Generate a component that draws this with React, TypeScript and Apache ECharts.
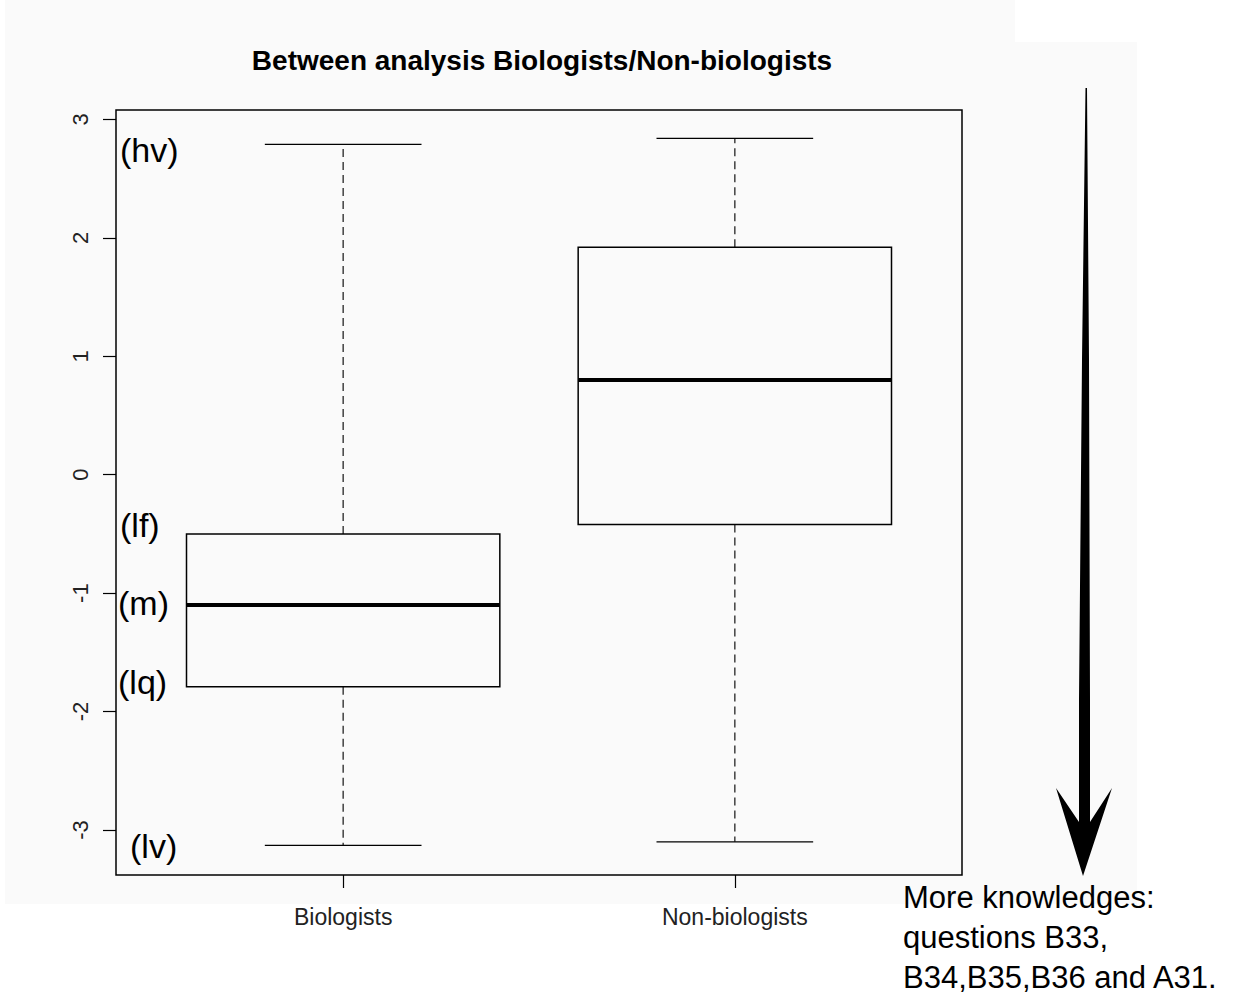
import React, { useEffect, useRef } from "react";
import * as echarts from "echarts";

const categories = ["Biologists", "Non-biologists"];
const positions = [1, 2];
// [low whisker, Q1, median, Q3, high whisker]
const biologists = [-3.13, -1.79, -1.1, -0.5, 2.79];
const nonBiologists = [-3.1, -0.42, 0.8, 1.92, 2.84];
const yTicks = [-3, -2, -1, 0, 1, 2, 3];
const annotations = [
  { text: "(hv)", x: 120, y: 150 },
  { text: "(lf)", x: 120, y: 525 },
  { text: "(m)", x: 118, y: 603 },
  { text: "(lq)", x: 118, y: 682 },
  { text: "(lv)", x: 130, y: 846 },
];
const noteLines = ["More knowledges:", "questions B33,", "B34,B35,B36 and A31."];

const FONT = "'Liberation Sans', Arial, sans-serif";

export default function App() {
  const ref = useRef<HTMLDivElement>(null);
  useEffect(() => {
    if (!ref.current) return;
    const chart = echarts.init(ref.current, null, { renderer: "svg" });
    const rows = [biologists, nonBiologists].map((v, i) => [positions[i], ...v]);
    const halfBox = 0.4;
    const halfCap = 0.2;
    const option: any = {
      animation: false,
      backgroundColor: "#ffffff",
      title: {
        text: "Between analysis Biologists/Non-biologists",
        left: 537,
        top: 41,
        textAlign: "center",
        textStyle: { fontFamily: FONT, fontSize: 28, fontWeight: "bold", color: "#000" },
      },
      grid: {
        left: 116,
        top: 110,
        width: 846,
        height: 765,
        show: true,
        borderColor: "#000",
        borderWidth: 1.5,
        backgroundColor: "transparent",
      },
      xAxis: {
        type: "value",
        min: 0.42,
        max: 2.58,
        splitLine: { show: false },
        axisLine: { show: false, onZero: false },
        axisTick: {
          show: true,
          customValues: positions,
          length: 13,
          lineStyle: { color: "#000", width: 1.2 },
        },
        axisLabel: {
          customValues: positions,
          margin: 30,
          fontFamily: FONT,
          fontSize: 23,
          color: "#222",
          formatter: (v: number) => categories[positions.indexOf(Math.round(v))] ?? "",
        },
      },
      yAxis: {
        type: "value",
        min: -3.38,
        max: 3.08,
        splitLine: { show: false },
        axisLine: { show: false, onZero: false },
        axisTick: {
          show: true,
          customValues: yTicks,
          length: 13,
          lineStyle: { color: "#000", width: 1.2 },
        },
        axisLabel: {
          customValues: yTicks,
          rotate: 90,
          margin: 25,
          fontFamily: FONT,
          fontSize: 22,
          color: "#222",
          formatter: (v: number) => String(Math.round(v)),
        },
      },
      series: [
        {
          type: "custom",
          data: rows,
          encode: { x: 0, y: [1, 2, 3, 4, 5] },
          renderItem: (_params: any, api: any) => {
            const x = api.value(0);
            const lo = api.value(1);
            const q1 = api.value(2);
            const med = api.value(3);
            const q3 = api.value(4);
            const hi = api.value(5);
            const tl = api.coord([x - halfBox, q3]);
            const br = api.coord([x + halfBox, q1]);
            const mL = api.coord([x - halfBox, med]);
            const mR = api.coord([x + halfBox, med]);
            const c = api.coord([x, 0])[0];
            const pHi = api.coord([x, hi])[1];
            const pLo = api.coord([x, lo])[1];
            const capL = api.coord([x - halfCap, 0])[0];
            const capR = api.coord([x + halfCap, 0])[0];
            const line = { stroke: "#000", lineWidth: 1.3 };
            const dashed = { stroke: "#333", lineWidth: 1.4, lineDash: [8, 5] };
            return {
              type: "group",
              children: [
                { type: "line", shape: { x1: c, y1: tl[1], x2: c, y2: pHi }, style: dashed },
                { type: "line", shape: { x1: c, y1: br[1], x2: c, y2: pLo }, style: dashed },
                { type: "line", shape: { x1: capL, y1: pHi, x2: capR, y2: pHi }, style: line },
                { type: "line", shape: { x1: capL, y1: pLo, x2: capR, y2: pLo }, style: line },
                {
                  type: "rect",
                  shape: { x: tl[0], y: tl[1], width: br[0] - tl[0], height: br[1] - tl[1] },
                  style: { fill: "none", stroke: "#000", lineWidth: 1.5 },
                },
                {
                  type: "line",
                  shape: { x1: mL[0], y1: mL[1], x2: mR[0], y2: mR[1] },
                  style: { stroke: "#000", lineWidth: 4 },
                },
              ],
            };
          },
        },
      ],
      graphic: [
        {
          type: "rect",
          z: -10,
          silent: true,
          shape: { x: 5, y: 42, width: 1132, height: 862 },
          style: { fill: "#fafafa" },
        },
        {
          type: "rect",
          z: -10,
          silent: true,
          shape: { x: 5, y: 0, width: 1010, height: 42 },
          style: { fill: "#fafafa" },
        },
        ...annotations.map((a) => ({
          type: "text",
          x: a.x,
          y: a.y,
          style: {
            text: a.text,
            fontFamily: FONT,
            fontSize: 34,
            fill: "#000",
            verticalAlign: "middle",
          },
        })),
        {
          type: "polygon",
          shape: {
            points: [
              [1085.5, 88],
              [1087, 88],
              [1089, 360],
              [1090, 700],
              [1090, 822],
              [1112, 788],
              [1083, 876],
              [1056, 788],
              [1079, 822],
              [1079, 700],
              [1082, 360],
            ],
          },
          style: { fill: "#000" },
        },
        ...noteLines.map((t, i) => ({
          type: "text",
          x: 903,
          y: 897 + i * 40,
          style: {
            text: t,
            fontFamily: FONT,
            fontSize: 31,
            fill: "#000",
            verticalAlign: "middle",
          },
        })),
      ],
    };
    chart.setOption(option);
    return () => chart.dispose();
  }, []);
  return (
    <div
      ref={ref}
      style={{ position: "absolute", left: 0, top: 0, width: 1234, height: 1000 }}
    />
  );
}
